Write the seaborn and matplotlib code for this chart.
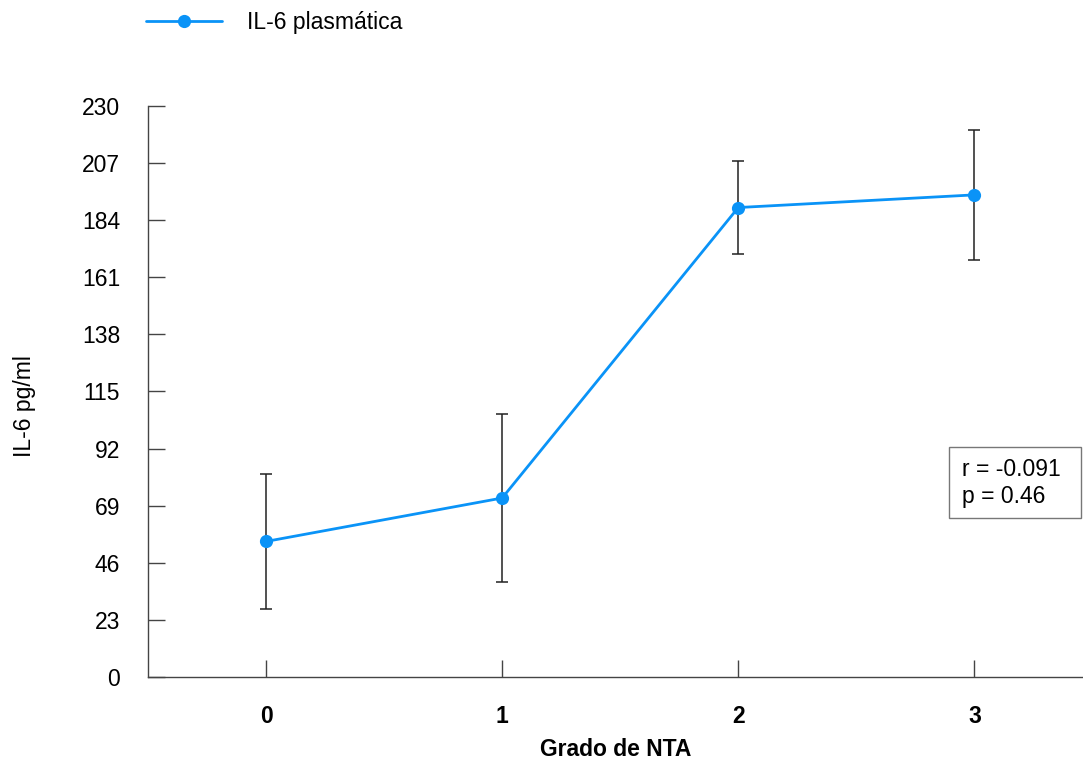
import matplotlib
matplotlib.use("Agg")
import matplotlib.pyplot as plt
import seaborn as sns
import pandas as pd
from matplotlib.patches import Rectangle

# Data
grades = [0, 1, 2, 3]
tick_labels = ["0", "1", "2", "3"]
il6_mean = [54.6, 72.1, 189.1, 194.2]
il6_err = [27.2, 33.9, 18.6, 26.2]
y_ticks = [0, 23, 46, 69, 92, 115, 138, 161, 184, 207, 230]
series_name = "IL-6 plasmática"
stats_text = "r = -0.091\np = 0.46"

sns.set_theme(style="white")
plt.rcParams['font.family'] = ['Liberation Sans', 'DejaVu Sans']
plt.rcParams['text.color'] = 'black'
plt.rcParams['axes.labelcolor'] = 'black'
plt.rcParams['xtick.color'] = 'black'
plt.rcParams['ytick.color'] = 'black'

W, H = 1083, 762
FS = 16.5
fig = plt.figure(figsize=(W / 100, H / 100), dpi=100)
ax = fig.add_axes([148 / W, (H - 677) / H, (W - 148) / W, (677 - 106) / H])

df = pd.DataFrame({"grade": grades, "val": il6_mean})
color = "#0a93f7"

ax.errorbar(grades, il6_mean, yerr=il6_err, fmt="none", ecolor="#222222",
            elinewidth=1.1, capsize=4, capthick=1.1, zorder=2)
sns.lineplot(data=df, x="grade", y="val", marker="o", color=color,
             linewidth=2, markersize=9.5, markeredgewidth=0, ax=ax,
             label=series_name, zorder=3, legend=False)

ax.set_xlim(-0.5, 3.46)
ax.set_ylim(0, 230)
ax.set_yticks(y_ticks)
ax.set_yticklabels([str(v) for v in y_ticks], fontsize=FS)
ax.set_xticks(grades)
ax.set_xticklabels(tick_labels, fontsize=FS, fontweight="bold")
ax.tick_params(axis="both", direction="in", length=12, width=1,
               left=True, bottom=True)
ax.tick_params(axis="both", color="#444444")
ax.tick_params(axis="y", pad=20)
ax.tick_params(axis="x", pad=20)

for s in ["top", "right"]:
    ax.spines[s].set_visible(False)
for s in ["left", "bottom"]:
    ax.spines[s].set_color("#444444")
    ax.spines[s].set_linewidth(1)

ax.set_xlabel("Grado de NTA", fontsize=FS, fontweight="bold", labelpad=7)
ax.set_ylabel("IL-6 pg/ml", fontsize=FS)
ax.yaxis.set_label_coords(-(148 - 36) / (W - 148), 0.475)

handles, labels = ax.get_legend_handles_labels()
leg = fig.legend(handles, labels, loc="center left",
                 bbox_to_anchor=(146 / W, 1 - 23 / H), bbox_transform=fig.transFigure,
                 frameon=False, fontsize=FS, handlelength=3.3, handletextpad=1.1,
                 borderpad=0, borderaxespad=0)

fig.patches.append(Rectangle((949 / W, 1 - 518 / H), 132 / W, 71 / H,
                             transform=fig.transFigure, facecolor="white",
                             edgecolor="#777777", linewidth=1, zorder=5))
fig.text(962 / W, 1 - 483 / H, stats_text, fontsize=FS, va="center", ha="left",
         linespacing=1.2, zorder=6)

fig.savefig("out.png", dpi=100, facecolor="white")
